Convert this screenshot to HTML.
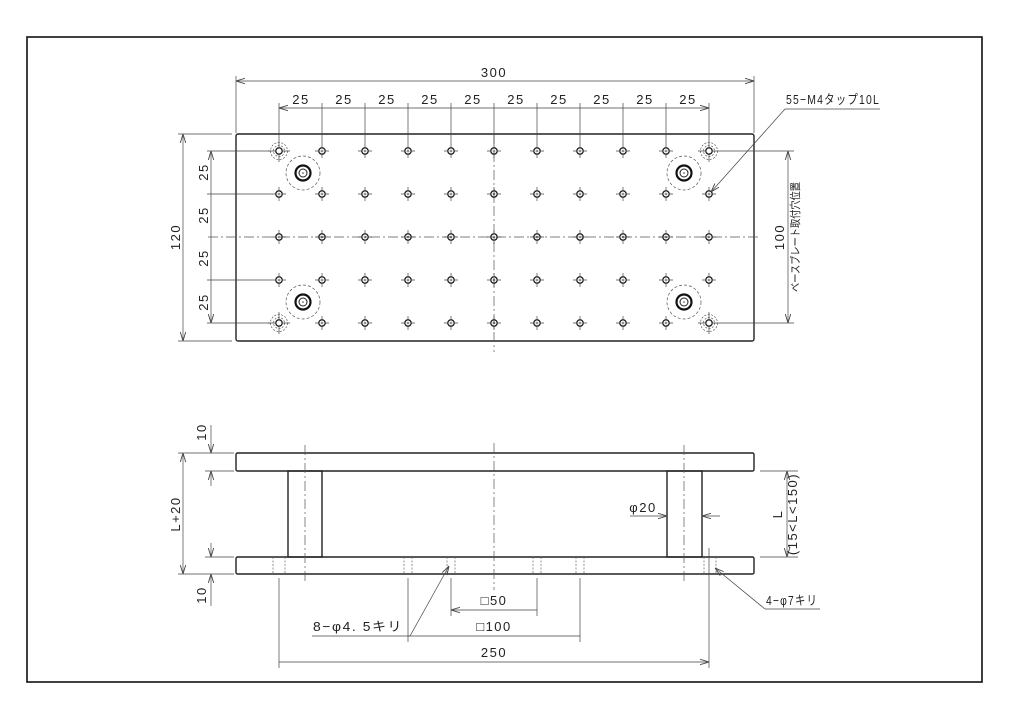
<!DOCTYPE html>
<html><head><meta charset="utf-8"><style>
html,body{margin:0;padding:0;background:#fff;}
svg{display:block;}
text{font-family:"Liberation Sans","Noto Sans CJK JP",sans-serif;font-size:13px;letter-spacing:1.5px;fill:#222;}
</style></head><body>
<svg width="1024" height="724" viewBox="0 0 1024 724" xmlns="http://www.w3.org/2000/svg">
<defs>
<marker id="a" viewBox="0 0 10 10" refX="10" refY="5" markerWidth="9" markerHeight="9" orient="auto-start-reverse" markerUnits="userSpaceOnUse"><path d="M0,2 L10,5 L0,8" fill="none" stroke="#444" stroke-width="1"/></marker>
<g id="h"><circle r="3.2" fill="none" stroke="#222" stroke-width="1.3"/><circle r="1" fill="none" stroke="#444" stroke-width="0.6"/><path d="M-7,0H-3.2M3.2,0H7M0,-7V-3.2M0,3.2V7" stroke="#444" stroke-width="0.7"/></g>
<g id="c"><circle r="3.2" fill="none" stroke="#222" stroke-width="1.3"/><circle r="5.5" fill="none" stroke="#555" stroke-width="0.7" stroke-dasharray="2,1.5"/><circle r="8.5" fill="none" stroke="#555" stroke-width="0.7" stroke-dasharray="2,1.5"/><path d="M-11,0H-3.2M3.2,0H11M0,-11V-3.2M0,3.2V11" stroke="#444" stroke-width="0.7"/></g>
<g id="b"><circle r="7.5" fill="none" stroke="#111" stroke-width="2.2"/><circle r="4" fill="none" stroke="#222" stroke-width="1"/><circle r="0.8" fill="#444"/><circle r="17" fill="none" stroke="#555" stroke-width="0.7" stroke-dasharray="3,2"/></g>
</defs>
<rect x="27" y="37" width="955" height="645" fill="none" stroke="#111" stroke-width="1.6"/>

<rect x="236" y="134" width="518" height="207" rx="2" fill="none" stroke="#222" stroke-width="1.4"/>
<g stroke="#555" stroke-width="0.7" stroke-dasharray="10,3,2,3" fill="none">
<path d="M208,237H760"/><path d="M494,134V352"/>
</g>
<g>
<use href="#c" x="279" y="151"/><use href="#c" x="709" y="151"/><use href="#c" x="279" y="323"/><use href="#c" x="709" y="323"/>
<use href="#h" x="279" y="194"/><use href="#h" x="279" y="237"/><use href="#h" x="279" y="280"/>
<use href="#h" x="709" y="194"/><use href="#h" x="709" y="237"/><use href="#h" x="709" y="280"/>
<use href="#h" x="322" y="151"/><use href="#h" x="322" y="194"/><use href="#h" x="322" y="237"/><use href="#h" x="322" y="280"/><use href="#h" x="322" y="323"/>
<use href="#h" x="365" y="151"/><use href="#h" x="365" y="194"/><use href="#h" x="365" y="237"/><use href="#h" x="365" y="280"/><use href="#h" x="365" y="323"/>
<use href="#h" x="408" y="151"/><use href="#h" x="408" y="194"/><use href="#h" x="408" y="237"/><use href="#h" x="408" y="280"/><use href="#h" x="408" y="323"/>
<use href="#h" x="451" y="151"/><use href="#h" x="451" y="194"/><use href="#h" x="451" y="237"/><use href="#h" x="451" y="280"/><use href="#h" x="451" y="323"/>
<use href="#h" x="494" y="151"/><use href="#h" x="494" y="194"/><use href="#h" x="494" y="237"/><use href="#h" x="494" y="280"/><use href="#h" x="494" y="323"/>
<use href="#h" x="537" y="151"/><use href="#h" x="537" y="194"/><use href="#h" x="537" y="237"/><use href="#h" x="537" y="280"/><use href="#h" x="537" y="323"/>
<use href="#h" x="580" y="151"/><use href="#h" x="580" y="194"/><use href="#h" x="580" y="237"/><use href="#h" x="580" y="280"/><use href="#h" x="580" y="323"/>
<use href="#h" x="623" y="151"/><use href="#h" x="623" y="194"/><use href="#h" x="623" y="237"/><use href="#h" x="623" y="280"/><use href="#h" x="623" y="323"/>
<use href="#h" x="666" y="151"/><use href="#h" x="666" y="194"/><use href="#h" x="666" y="237"/><use href="#h" x="666" y="280"/><use href="#h" x="666" y="323"/>
<use href="#b" x="303" y="173"/><use href="#b" x="303" y="302"/><use href="#b" x="684" y="173"/><use href="#b" x="684" y="302"/>
</g>
<g stroke="#444" stroke-width="0.7" fill="none">
<path d="M236,76V133M754,76V133"/>
<path d="M236,81H754" marker-start="url(#a)" marker-end="url(#a)"/>
<path d="M279,103V140M322,103V144M365,103V144M408,103V144M451,103V144M494,103V144M537,103V144M580,103V144M623,103V144M666,103V144M709,103V140"/>
<path d="M279,108H322M322,108H365M365,108H408M408,108H451M451,108H494M494,108H537M537,108H580M580,108H623M623,108H666M666,108H709" marker-start="url(#a)" marker-end="url(#a)"/>
<path d="M178,134H232M178,341H232"/>
<path d="M183,134V341" marker-start="url(#a)" marker-end="url(#a)"/>
<path d="M207,151H270M207,194H272M207,280H272M207,323H270"/>
<path d="M211,151V194M211,194V237M211,237V280M211,280V323" marker-start="url(#a)" marker-end="url(#a)"/>
<path d="M720,151H794M720,323H794"/>
<path d="M788,151V323" marker-start="url(#a)" marker-end="url(#a)"/>
<path d="M785,109H880"/>
<path d="M785,109L711,192" marker-end="url(#a)"/>
</g>
<g text-anchor="middle">
<text x="494" y="77">300</text>
<text x="301" y="104">25</text><text x="344" y="104">25</text><text x="387" y="104">25</text><text x="430" y="104">25</text><text x="473" y="104">25</text><text x="516" y="104">25</text><text x="559" y="104">25</text><text x="602" y="104">25</text><text x="645" y="104">25</text><text x="688" y="104">25</text>
<text transform="translate(180,237) rotate(-90)">120</text>
<text transform="translate(208,172) rotate(-90)">25</text>
<text transform="translate(208,215) rotate(-90)">25</text>
<text transform="translate(208,258) rotate(-90)">25</text>
<text transform="translate(208,302) rotate(-90)">25</text>
<text transform="translate(784,237) rotate(-90)">100</text>
<text transform="translate(799,237) rotate(-90)" textLength="110" lengthAdjust="spacingAndGlyphs" style="font-size:11px;letter-spacing:0">ベースプレート取付穴位置</text>
</g>
<text x="786" y="104" textLength="94" lengthAdjust="spacingAndGlyphs">55−M4タップ10L</text>

<g fill="none" stroke="#222" stroke-width="1.4">
<rect x="236" y="453" width="518" height="18" rx="1.5"/>
<rect x="236" y="557" width="518" height="17" rx="1.5"/>
<rect x="288" y="471" width="34" height="86"/>
<rect x="667" y="471" width="35" height="86"/>
</g>
<g stroke="#555" stroke-width="0.7" stroke-dasharray="10,3,2,3" fill="none">
<path d="M305,445V584M684,445V584M494,443V590"/>
</g>
<g stroke="#666" stroke-width="0.7" stroke-dasharray="2,1.5" fill="none">
<path d="M273,557V574M285,557V574M704,557V574M716,557V574M404,557V574M412,557V574M447,557V574M455,557V574M533,557V574M541,557V574M576,557V574M584,557V574"/>
</g>
<g stroke="#444" stroke-width="0.7" fill="none">
<path d="M178,453H234M205,471H234M205,557H234M178,574H234"/>
<path d="M211,425V453" marker-end="url(#a)"/>
<path d="M211,486V471" marker-end="url(#a)"/>
<path d="M211,543V557" marker-end="url(#a)"/>
<path d="M211,606V574" marker-end="url(#a)"/>
<path d="M183,453V574" marker-start="url(#a)" marker-end="url(#a)"/>
<path d="M760,471H798M760,557H798"/>
<path d="M787,471V557" marker-start="url(#a)" marker-end="url(#a)"/>
<path d="M630,516H667" marker-end="url(#a)"/>
<path d="M720,516H702" marker-end="url(#a)"/>
<path d="M279,578V668M709,548V668M408,578V642M580,578V642M451,578V616M537,578V616"/>
<path d="M451,610H537M408,636H580M279,662H709" marker-start="url(#a)" marker-end="url(#a)"/>
<path d="M312,636H410"/><path d="M410,636L449,566" marker-end="url(#a)"/>
<path d="M765,609H820"/><path d="M765,609L715,568" marker-end="url(#a)"/>
</g>
<g text-anchor="middle">
<text transform="translate(206,432) rotate(-90)">10</text>
<text transform="translate(180,514) rotate(-90)">L+20</text>
<text transform="translate(206,595) rotate(-90)">10</text>
<text transform="translate(782,514) rotate(-90)">L</text>
<text transform="translate(797,514) rotate(-90)">(15&lt;L&lt;150)</text>
<text x="643" y="512">φ20</text>
<text x="494" y="605">□50</text>
<text x="494" y="631">□100</text>
<text x="494" y="657">250</text>
</g>
<text x="313" y="631" textLength="90" lengthAdjust="spacingAndGlyphs">8−φ4. 5キリ</text>
<text x="766" y="605" textLength="52" lengthAdjust="spacingAndGlyphs">4−φ7キリ</text>
</svg>
</body></html>
